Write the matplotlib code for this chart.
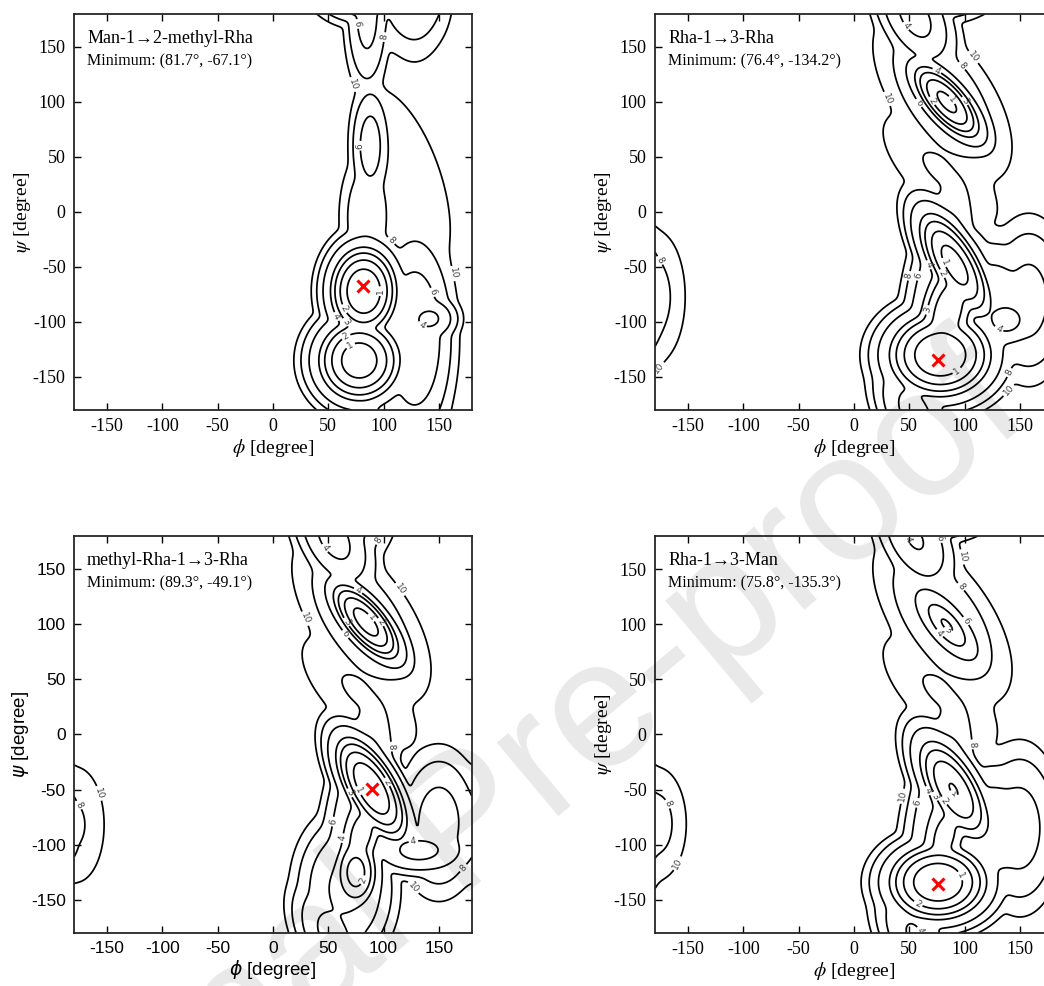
import numpy as np
import matplotlib.pyplot as plt

plt.rcParams['mathtext.fontset'] = 'stix'
plt.rcParams['axes.unicode_minus'] = False

# dihedral grid (degrees)
GRID = np.linspace(-180, 180, 361)
PHI, PSI = np.meshgrid(GRID, GRID)
LEVELS = [1, 2, 3, 4, 6, 8, 10]
TICKS = [-150, -100, -50, 0, 50, 100, 150]

titles = ['Man-1\u21922-methyl-Rha', 'Rha-1\u21923-Rha',
          'methyl-Rha-1\u21923-Rha', 'Rha-1\u21923-Man']
min_phi = [81.7, 76.4, 89.3, 75.8]
min_psi = [-67.1, -134.2, -49.1, -135.3]

# energy wells per linkage: centre (phi, psi), floor energy, widths, tilt
p1_phi = [82, 78, 128, 142, 88, 85, 118, 85, 115]
p1_psi = [-72, -135, -115, -97, 60, -5, 30, 180, 175]
p1_e0 = [0.0, 0.3, 4.2, 3.6, 5.0, 6.2, 8.2, 5.2, 8.3]
p1_wu = [15, 19, 17, 12, 9, 13, 64, 10, 30]
p1_wv = [20, 19, 45, 10, 27, 32, 25, 35, 22]
p1_tilt = [0, 0, 0, 0, 0, 0, -71, 0, 0]

p2_phi = [78, 91, 84, 80, 55, 138, 125, 158, 78, 75, 85, -178]
p2_psi = [-130, -48, 100, 105, 178, -98, -85, -80, 38, -75, -90, -77]
p2_e0 = [0.0, 0.5, 0.7, 6.0, 3.3, 3.3, 4.5, 5.2, 7.8, 4.0, 1.3, 7.5]
p2_wu = [23, 28, 22, 45, 25, 14, 22, 18, 45, 14, 14, 16]
p2_wv = [19, 11, 9, 22, 14, 12, 30, 36, 20, 50, 30, 37]
p2_tilt = [0, -60, -49, -55, -60, 0, 0, 0, -45, -10, -15, 0]

p3_phi = [89, 75, 65, 84, 80, 55, 132, 150, 78, 75, 80, -178]
p3_psi = [-49, -125, -140, 102, 105, 178, -105, -80, 38, -75, -90, -82]
p3_e0 = [0.0, 1.5, 3.5, 0.5, 6.0, 3.3, 3.4, 5.0, 7.8, 4.0, 2.5, 7.8]
p3_wu = [26, 11, 20, 22, 45, 25, 22, 18, 45, 14, 12, 17]
p3_wv = [11, 18, 30, 9, 22, 14, 11, 32, 20, 50, 25, 35]
p3_tilt = [-60, 0, 0, -50, -55, -60, 0, 0, -45, -10, -15, 0]

p4_phi = [76, 90, 84, 80, 55, 125, 150, 78, 75, 82, -178]
p4_psi = [-134, -50, 99, 105, 178, -85, -85, 38, -75, -92, -81]
p4_e0 = [0.0, 0.95, 2.9, 6.0, 3.8, 4.5, 5.0, 7.8, 4.0, 2.6, 7.3]
p4_wu = [22, 28, 22, 45, 25, 22, 18, 45, 14, 13, 16]
p4_wv = [17, 12, 9, 22, 14, 30, 36, 20, 50, 28, 31]
p4_tilt = [0, -60, -50, -55, -60, 0, 0, -45, -10, -15, 0]

wells = [
    (p1_phi, p1_psi, p1_e0, p1_wu, p1_wv, p1_tilt),
    (p2_phi, p2_psi, p2_e0, p2_wu, p2_wv, p2_tilt),
    (p3_phi, p3_psi, p3_e0, p3_wu, p3_wv, p3_tilt),
    (p4_phi, p4_psi, p4_e0, p4_wu, p4_wv, p4_tilt),
]


def wrap(d):
    return (d + 180) % 360 - 180


def surface(phi0, psi0, e0, wu, wv, tilt, temp=0.5):
    terms = []
    for p, s, e, a, b, t in zip(phi0, psi0, e0, wu, wv, tilt):
        dp = wrap(PHI - p)
        ds = wrap(PSI - s)
        th = np.radians(t)
        u = dp * np.cos(th) + ds * np.sin(th)
        v = -dp * np.sin(th) + ds * np.cos(th)
        terms.append(e + (u / a) ** 2 + (v / b) ** 2)
    terms = np.array(terms)
    m = terms.min(axis=0)
    return m - temp * np.log(np.exp(-(terms - m) / temp).sum(axis=0))


fig = plt.figure(figsize=(10.44, 9.86), dpi=100)
fig.text(470 / 1044, 1 - 830 / 986, 'Journal Pre-proof', fontsize=130,
         color='#e9e9e9', rotation=40, ha='center', va='center',
         family='Liberation Sans', zorder=-1)

positions = [
    [0.0709, 0.5842, 0.3812, 0.4016],
    [0.6274, 0.5842, 0.3812, 0.4016],
    [0.0709, 0.0538, 0.3812, 0.4026],
    [0.6274, 0.0538, 0.3812, 0.4026],
]

for i in range(4):
    ax = fig.add_axes(positions[i])
    ax.set_facecolor('none')
    serif = i != 2
    tick_family = 'Liberation Serif' if serif else 'Liberation Sans'
    math_family = 'stix' if serif else 'dejavusans'

    E = surface(*wells[i])
    E = E - E.min()
    cs = ax.contour(PHI, PSI, E, levels=LEVELS, colors='black', linewidths=1.25)
    ax.clabel(cs, fmt='%d', fontsize=6.5, colors='#404040', inline_spacing=2)
    ax.plot(min_phi[i], min_psi[i], marker='x', color='red', ms=8, mew=2.2)

    ax.set_xlim(-180, 180)
    ax.set_ylim(-180, 180)
    ax.set_xticks(TICKS)
    ax.set_yticks(TICKS)
    ax.tick_params(direction='in', top=True, right=True, length=5, width=1,
                   labelsize=13 if serif else 12.5, pad=6)
    for lab in ax.get_xticklabels() + ax.get_yticklabels():
        lab.set_family(tick_family)
    for sp in ax.spines.values():
        sp.set_linewidth(1.3)
        sp.set_color('#262626')

    ax.set_xlabel(r'$\phi$ [degree]', fontsize=14 if serif else 13.5,
                  family=tick_family, math_fontfamily=math_family, labelpad=1)
    ax.set_ylabel(r'$\psi$ [degree]', fontsize=14 if serif else 13.5,
                  family=tick_family, math_fontfamily=math_family, labelpad=0)

    ax.text(0.033, 0.927, titles[i], transform=ax.transAxes, fontsize=13,
            family=['Liberation Serif', 'DejaVu Serif'], va='baseline')
    ax.text(0.033, 0.871, 'Minimum: (%.1f\u00b0, %.1f\u00b0)' % (min_phi[i], min_psi[i]),
            transform=ax.transAxes, fontsize=11.5, family='Liberation Serif',
            va='baseline')

fig.savefig('out.png', dpi=100)
